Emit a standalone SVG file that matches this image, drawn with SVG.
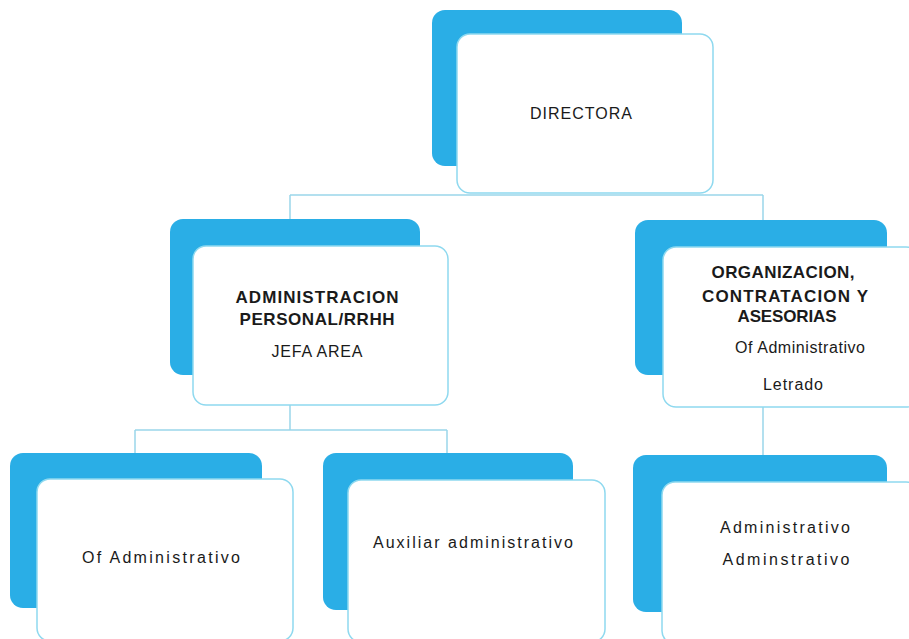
<svg xmlns="http://www.w3.org/2000/svg" width="909" height="639" viewBox="0 0 909 639">
<style>
.back{fill:#2aaee6}
.front{fill:#ffffff;stroke:#8fd9ef;stroke-width:1.5}
.conn{fill:none;stroke:#9ad6ea;stroke-width:1.5}
text{font-family:"Liberation Sans",Arial,sans-serif;fill:#1a1a1a;text-anchor:middle}
.b{font-weight:bold;font-size:17px}
.r{font-size:16px}
</style>
<rect width="909" height="639" fill="#ffffff"/>
<g id="connectors">
<path class="conn" d="M290,195 H763 M290,195 V220 M763,195 V220"/>
<path class="conn" d="M290,405 V430 M135,430 H447 M135,430 V453 M447,430 V453"/>
<path class="conn" d="M763,407 V455"/>
</g>
<g id="directora">
<rect class="back" x="432" y="10" width="250" height="156" rx="13"/>
<rect class="front" x="457" y="34" width="256" height="159" rx="13"/>
<text class="r" x="581" y="119" textLength="102" lengthAdjust="spacing">DIRECTORA</text>
</g>
<g id="admin-personal">
<rect class="back" x="170" y="219" width="250" height="156" rx="13"/>
<rect class="front" x="193" y="246" width="255" height="159" rx="13"/>
<text class="b" x="317" y="303" textLength="163" lengthAdjust="spacing">ADMINISTRACION</text>
<text class="b" x="317" y="325" textLength="155" lengthAdjust="spacing">PERSONAL/RRHH</text>
<text class="r" x="317" y="357" textLength="91" lengthAdjust="spacing">JEFA AREA</text>
</g>
<g id="organizacion">
<rect class="back" x="635" y="220" width="252" height="155" rx="13"/>
<rect class="front" x="663" y="247" width="256" height="160" rx="13"/>
<text class="b" x="783" y="278" textLength="143" lengthAdjust="spacing">ORGANIZACION,</text>
<text class="b" x="785" y="302" textLength="166" lengthAdjust="spacing">CONTRATACION Y</text>
<text class="b" x="787" y="322" textLength="99" lengthAdjust="spacing">ASESORIAS</text>
<text class="r" x="800" y="353" textLength="130" lengthAdjust="spacing">Of Administrativo</text>
<text class="r" x="793" y="390" textLength="60" lengthAdjust="spacing">Letrado</text>
</g>
<g id="of-administrativo">
<rect class="back" x="10" y="453" width="252" height="155" rx="13"/>
<rect class="front" x="37" y="479" width="256" height="162" rx="13"/>
<text class="r" x="161" y="563" textLength="158" lengthAdjust="spacing">Of Administrativo</text>
</g>
<g id="auxiliar">
<rect class="back" x="323" y="453" width="250" height="157" rx="13"/>
<rect class="front" x="348" y="480" width="257" height="162" rx="13"/>
<text class="r" x="473" y="548" textLength="200" lengthAdjust="spacing">Auxiliar administrativo</text>
</g>
<g id="administrativos">
<rect class="back" x="633" y="455" width="254" height="157" rx="13"/>
<rect class="front" x="662" y="482" width="257" height="162" rx="13"/>
<text class="r" x="785" y="533" textLength="130" lengthAdjust="spacing">Administrativo</text>
<text class="r" x="786" y="565" textLength="127" lengthAdjust="spacing">Adminstrativo</text>
</g>
</svg>
